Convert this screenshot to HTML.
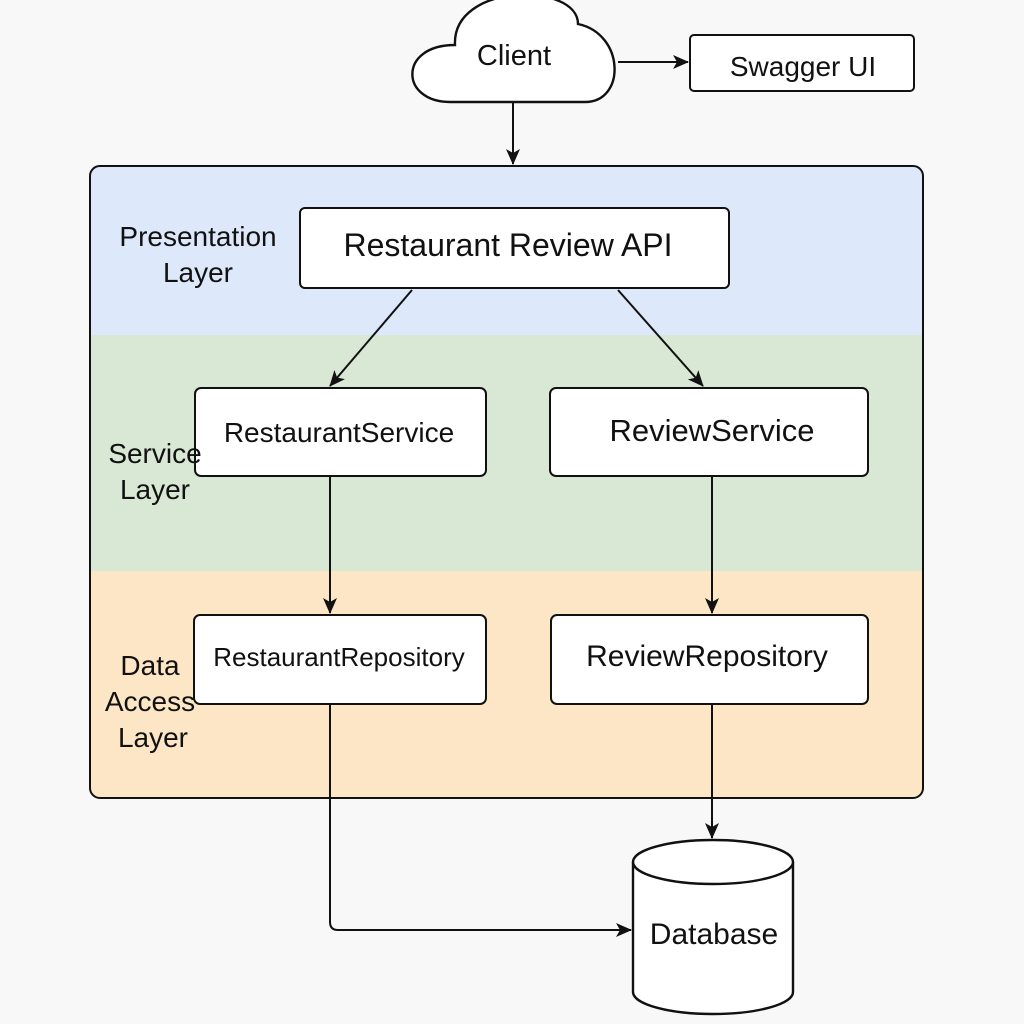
<!DOCTYPE html>
<html><head><style>html,body{margin:0;padding:0;background:#f8f8f8}svg{display:block}</style></head>
<body>
<svg width="1024" height="1024" viewBox="0 0 1024 1024" xmlns="http://www.w3.org/2000/svg" font-family="Liberation Sans, sans-serif">
<defs>
<marker id="a" markerWidth="16" markerHeight="14" refX="15" refY="7" orient="auto" markerUnits="userSpaceOnUse"><path d="M0,0 L16,7 L0,14 L4,7 Z" fill="#111"/></marker>
<clipPath id="c"><rect x="90" y="166" width="833" height="632" rx="10"/></clipPath>
</defs>
<rect width="1024" height="1024" fill="#f8f8f8"/>
<g clip-path="url(#c)">
<rect x="90" y="166" width="833" height="169" fill="#dde8fb"/>
<rect x="90" y="335" width="833" height="236" fill="#d9e8d5"/>
<rect x="90" y="571" width="833" height="227" fill="#fde6c6"/>
</g>
<rect x="90" y="166" width="833" height="632" rx="10" fill="none" stroke="#111" stroke-width="2"/>
<!-- cloud -->
<path d="M450,102 C400,102 398,45 455,45 C452,-18 578,-18 578,24 C625,34 626,102 585,102 Z" fill="#fff" stroke="#111" stroke-width="2.4"/>
<text x="514" y="65" font-size="29" text-anchor="middle" fill="#111">Client</text>
<rect x="690" y="35" width="224" height="56" rx="4" fill="#fff" stroke="#111" stroke-width="2"/>
<text x="803" y="76" font-size="28" text-anchor="middle" fill="#111">Swagger UI</text>
<g stroke="#111" stroke-width="2" fill="none" marker-end="url(#a)">
<line x1="618" y1="62" x2="688" y2="62"/>
<line x1="513" y1="102" x2="513" y2="164"/>
<line x1="412" y1="290" x2="330" y2="386"/>
<line x1="618" y1="290" x2="703" y2="386"/>
<line x1="330" y1="477" x2="330" y2="613"/>
<line x1="712" y1="477" x2="712" y2="613"/>
<line x1="712" y1="705" x2="712" y2="838"/>
<path d="M330,705 L330,922 Q330,930 338,930 L631,930"/>
</g>
<rect x="300" y="208" width="429" height="80" rx="5" fill="#fff" stroke="#111" stroke-width="2"/>
<text x="508" y="256" font-size="32" text-anchor="middle" fill="#111">Restaurant Review API</text>
<rect x="195" y="388" width="291" height="88" rx="6" fill="#fff" stroke="#111" stroke-width="2"/>
<text x="339" y="442" font-size="28" text-anchor="middle" fill="#111">RestaurantService</text>
<rect x="550" y="388" width="318" height="88" rx="6" fill="#fff" stroke="#111" stroke-width="2"/>
<text x="712" y="441" font-size="31" text-anchor="middle" fill="#111">ReviewService</text>
<rect x="194" y="615" width="292" height="89" rx="6" fill="#fff" stroke="#111" stroke-width="2"/>
<text x="339" y="666" font-size="26" text-anchor="middle" fill="#111">RestaurantRepository</text>
<rect x="551" y="615" width="317" height="89" rx="6" fill="#fff" stroke="#111" stroke-width="2"/>
<text x="707" y="666" font-size="30" text-anchor="middle" fill="#111">ReviewRepository</text>
<g font-size="28" fill="#111" text-anchor="middle">
<text x="198" y="246">Presentation</text><text x="198" y="282">Layer</text>
<text x="155" y="463">Service</text><text x="155" y="499">Layer</text>
<text x="150" y="675">Data</text><text x="150" y="711">Access</text><text x="153" y="747">Layer</text>
</g>
<!-- database -->
<path d="M633,862 L633,992 A80,22 0 0 0 793,992 L793,862" fill="#fff" stroke="#111" stroke-width="2.4"/>
<ellipse cx="713" cy="862" rx="80" ry="22" fill="#fff" stroke="#111" stroke-width="2.4"/>
<text x="714" y="944" font-size="30" text-anchor="middle" fill="#111">Database</text>
</svg>
</body></html>
